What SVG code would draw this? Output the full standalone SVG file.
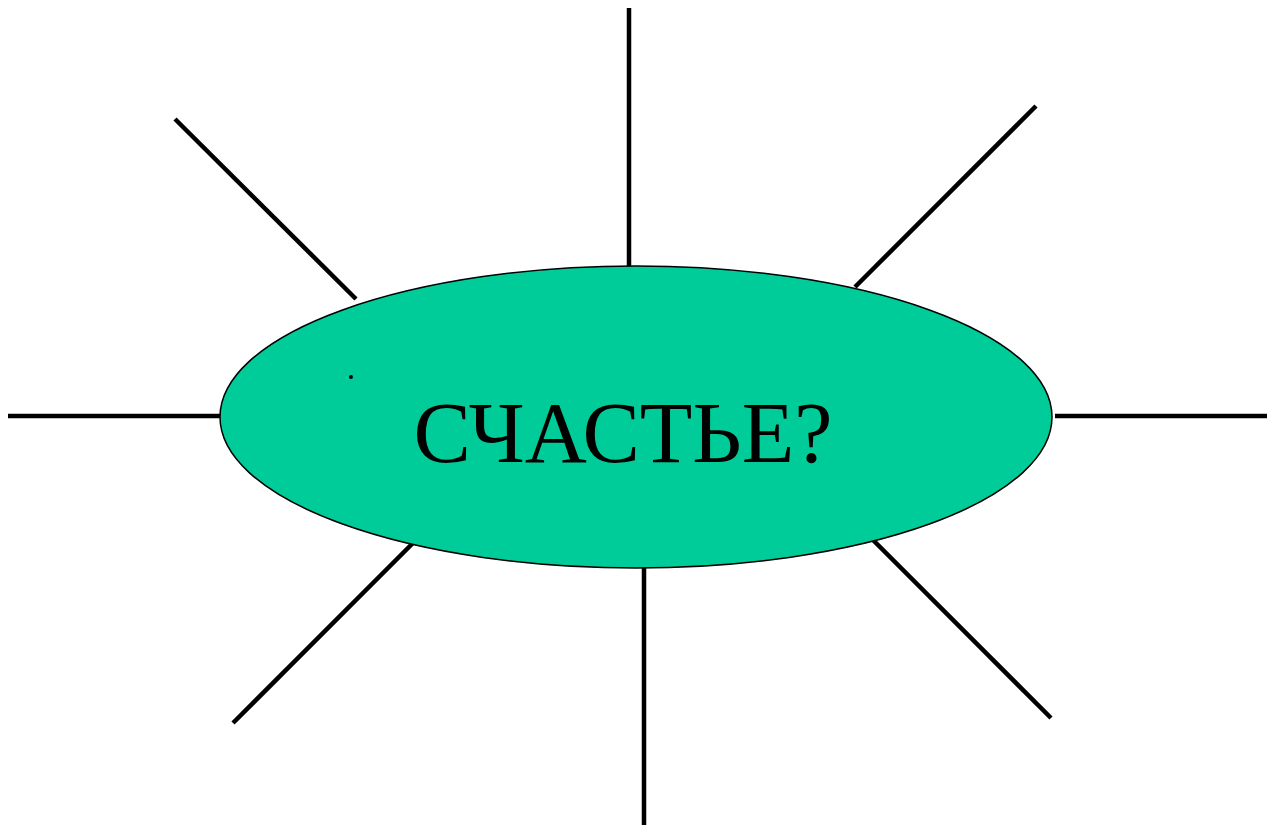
<svg xmlns="http://www.w3.org/2000/svg" width="1268" height="829" viewBox="0 0 1268 829">
<style>
.ray{stroke:#000;stroke-width:4.5;fill:none}
.oval{fill:#00CC99;stroke:#000;stroke-width:1.5}
.lbl{font-family:"Liberation Serif","Times New Roman",serif;font-size:86px;fill:#000}
</style>
<rect width="1268" height="829" fill="#fff"/>
<g id="connectors">
<line class="ray" x1="629" y1="8" x2="629" y2="267"/>
<line class="ray" x1="175" y1="119" x2="356" y2="299"/>
<line class="ray" x1="1036" y1="106" x2="855" y2="287"/>
<line class="ray" x1="8" y1="416" x2="221" y2="416"/>
<line class="ray" x1="1055" y1="416" x2="1267" y2="416"/>
<line class="ray" x1="413" y1="543" x2="233" y2="723"/>
<line class="ray" x1="644" y1="567" x2="644" y2="825"/>
<line class="ray" x1="871" y1="538" x2="1051" y2="718"/>
</g>
<g id="center">
<ellipse class="oval" cx="636" cy="417" rx="416" ry="151"/>
<circle cx="351" cy="377" r="2" fill="#000"/>
<text class="lbl" x="623" y="462" text-anchor="middle">СЧАСТЬЕ?</text>
</g>
</svg>
